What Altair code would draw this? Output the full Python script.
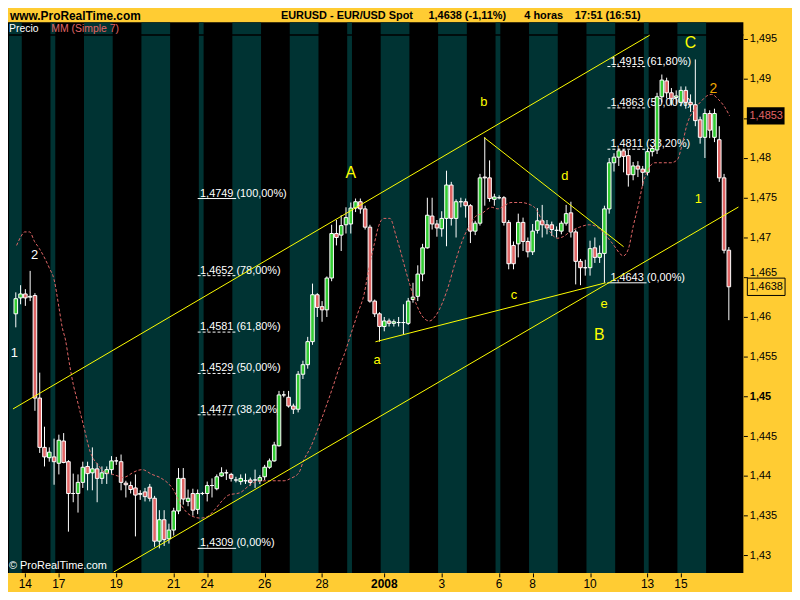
import altair as alt
import pandas as pd

# ------------------------------------------------------------------ data
# 4-hour EUR/USD bars, oldest first (bar i sits in time slot i)
bar_open = [
    1.4604, 1.4624, 1.4629, 1.4625, 1.4627, 1.4498, 1.4436, 1.4423, 1.4424, 1.4416,
    1.4444, 1.4418, 1.4378, 1.4378, 1.4392, 1.4412, 1.4404, 1.4409, 1.4397, 1.4403,
    1.4408, 1.4419, 1.4418, 1.4391, 1.4388, 1.4385, 1.4377, 1.4380, 1.4386, 1.4372,
    1.4318, 1.4345, 1.4321, 1.4332, 1.4356, 1.4397, 1.4368, 1.4378, 1.4358, 1.4378,
    1.4378, 1.4388, 1.4384, 1.4400, 1.4404, 1.4402, 1.4395, 1.4393, 1.4394, 1.4395,
    1.4395, 1.4394, 1.4399, 1.4411, 1.4419, 1.4438, 1.4502, 1.4499, 1.4488, 1.4484,
    1.4528, 1.4540, 1.4569, 1.4628, 1.4613, 1.4609, 1.4649, 1.4705, 1.4703, 1.4716,
    1.4717, 1.4737, 1.4745, 1.4736, 1.4713, 1.4620, 1.4604, 1.4588, 1.4595, 1.4592,
    1.4593, 1.4593, 1.4592, 1.4622, 1.4626, 1.4654, 1.4687, 1.4727, 1.4717, 1.4711,
    1.4724, 1.4766, 1.4724, 1.4745, 1.4745, 1.4740, 1.4708, 1.4718, 1.4776, 1.4775,
    1.4748, 1.4750, 1.4750, 1.4719, 1.4690, 1.4692, 1.4719, 1.4695, 1.4682, 1.4709,
    1.4721, 1.4716, 1.4716, 1.4709, 1.4708, 1.4718, 1.4731, 1.4707, 1.4670, 1.4662,
    1.4662, 1.4687, 1.4675, 1.4680, 1.4736, 1.4794, 1.4801, 1.4809, 1.4803, 1.4779,
    1.4790, 1.4786, 1.4782, 1.4808, 1.4810, 1.4877, 1.4897, 1.4882, 1.4876, 1.4870,
    1.4885, 1.4870, 1.4867, 1.4848, 1.4826, 1.4856, 1.4826, 1.4823, 1.4775, 1.4684,
]
bar_high = [
    1.4631, 1.4640, 1.4635, 1.4658, 1.4630, 1.4530, 1.4462, 1.4436, 1.4447, 1.4452,
    1.4454, 1.4420, 1.4403, 1.4402, 1.4418, 1.4418, 1.4436, 1.4416, 1.4412, 1.4412,
    1.4425, 1.4424, 1.4427, 1.4394, 1.4393, 1.4402, 1.4382, 1.4385, 1.4390, 1.4375,
    1.4357, 1.4357, 1.4340, 1.4360, 1.4410, 1.4410, 1.4383, 1.4384, 1.4383, 1.4380,
    1.4393, 1.4397, 1.4402, 1.4411, 1.4408, 1.4404, 1.4399, 1.4402, 1.4403, 1.4398,
    1.4408, 1.4401, 1.4414, 1.4422, 1.4443, 1.4507, 1.4507, 1.4507, 1.4491, 1.4532,
    1.4545, 1.4575, 1.4642, 1.4630, 1.4620, 1.4651, 1.4716, 1.4722, 1.4728, 1.4738,
    1.4744, 1.4749, 1.4749, 1.4740, 1.4716, 1.4622, 1.4606, 1.4600, 1.4598, 1.4597,
    1.4600, 1.4616, 1.4624, 1.4643, 1.4665, 1.4692, 1.4750, 1.4750, 1.4722, 1.4733,
    1.4784, 1.4770, 1.4748, 1.4750, 1.4749, 1.4742, 1.4721, 1.4780, 1.4826, 1.4797,
    1.4755, 1.4753, 1.4752, 1.4722, 1.4695, 1.4730, 1.4725, 1.4700, 1.4717, 1.4737,
    1.4741, 1.4722, 1.4720, 1.4714, 1.4721, 1.4741, 1.4745, 1.4710, 1.4673, 1.4672,
    1.4696, 1.4700, 1.4690, 1.4740, 1.4800, 1.4806, 1.4812, 1.4811, 1.4810, 1.4795,
    1.4796, 1.4790, 1.4812, 1.4815, 1.4882, 1.4905, 1.4901, 1.4888, 1.4885, 1.4890,
    1.4890, 1.4880, 1.4924, 1.4852, 1.4862, 1.4860, 1.4862, 1.4840, 1.4780, 1.4688,
]
bar_low = [
    1.4587, 1.4616, 1.4614, 1.4620, 1.4482, 1.4429, 1.4412, 1.4418, 1.4389, 1.4402,
    1.4416, 1.4330, 1.4367, 1.4354, 1.4385, 1.4382, 1.4382, 1.4367, 1.4390, 1.4390,
    1.4402, 1.4414, 1.4382, 1.4373, 1.4378, 1.4324, 1.4370, 1.4368, 1.4368, 1.4311,
    1.4309, 1.4312, 1.4315, 1.4325, 1.4352, 1.4364, 1.4362, 1.4350, 1.4352, 1.4376,
    1.4368, 1.4373, 1.4382, 1.4399, 1.4395, 1.4393, 1.4392, 1.4389, 1.4390, 1.4388,
    1.4385, 1.4390, 1.4395, 1.4409, 1.4418, 1.4437, 1.4499, 1.4486, 1.4478, 1.4480,
    1.4522, 1.4535, 1.4565, 1.4600, 1.4594, 1.4600, 1.4645, 1.4690, 1.4683, 1.4705,
    1.4705, 1.4732, 1.4730, 1.4710, 1.4618, 1.4600, 1.4569, 1.4582, 1.4588, 1.4588,
    1.4588, 1.4578, 1.4590, 1.4618, 1.4620, 1.4645, 1.4686, 1.4710, 1.4701, 1.4701,
    1.4689, 1.4715, 1.4700, 1.4738, 1.4725, 1.4693, 1.4703, 1.4715, 1.4740, 1.4745,
    1.4740, 1.4748, 1.4715, 1.4660, 1.4660, 1.4675, 1.4683, 1.4675, 1.4678, 1.4705,
    1.4700, 1.4704, 1.4702, 1.4700, 1.4704, 1.4715, 1.4700, 1.4641, 1.4640, 1.4652,
    1.4652, 1.4668, 1.4668, 1.4643, 1.4730, 1.4783, 1.4790, 1.4782, 1.4764, 1.4772,
    1.4776, 1.4765, 1.4778, 1.4802, 1.4805, 1.4870, 1.4875, 1.4866, 1.4868, 1.4865,
    1.4862, 1.4858, 1.4840, 1.4818, 1.4800, 1.4825, 1.4820, 1.4770, 1.4680, 1.4596,
]
bar_close = [
    1.4623, 1.4629, 1.4624, 1.4626, 1.4498, 1.4436, 1.4424, 1.4430, 1.4418, 1.4445,
    1.4417, 1.4378, 1.4378, 1.4392, 1.4411, 1.4403, 1.4409, 1.4397, 1.4404, 1.4408,
    1.4419, 1.4419, 1.4392, 1.4389, 1.4383, 1.4376, 1.4378, 1.4374, 1.4372, 1.4318,
    1.4345, 1.4320, 1.4332, 1.4356, 1.4397, 1.4371, 1.4372, 1.4357, 1.4378, 1.4378,
    1.4388, 1.4388, 1.4399, 1.4404, 1.4404, 1.4397, 1.4395, 1.4397, 1.4394, 1.4392,
    1.4395, 1.4398, 1.4411, 1.4419, 1.4439, 1.4502, 1.4502, 1.4488, 1.4484, 1.4528,
    1.4540, 1.4569, 1.4628, 1.4612, 1.4609, 1.4649, 1.4705, 1.4700, 1.4715, 1.4725,
    1.4737, 1.4745, 1.4736, 1.4713, 1.4620, 1.4604, 1.4588, 1.4595, 1.4592, 1.4594,
    1.4593, 1.4593, 1.4620, 1.4625, 1.4654, 1.4687, 1.4728, 1.4717, 1.4712, 1.4724,
    1.4766, 1.4724, 1.4745, 1.4745, 1.4740, 1.4708, 1.4718, 1.4775, 1.4775, 1.4749,
    1.4751, 1.4750, 1.4719, 1.4667, 1.4667, 1.4719, 1.4695, 1.4682, 1.4708, 1.4721,
    1.4716, 1.4712, 1.4710, 1.4709, 1.4718, 1.4730, 1.4707, 1.4670, 1.4662, 1.4662,
    1.4686, 1.4675, 1.4680, 1.4736, 1.4794, 1.4801, 1.4809, 1.4802, 1.4779, 1.4790,
    1.4786, 1.4782, 1.4808, 1.4812, 1.4877, 1.4898, 1.4882, 1.4875, 1.4878, 1.4885,
    1.4870, 1.4867, 1.4847, 1.4826, 1.4856, 1.4835, 1.4856, 1.4775, 1.4684, 1.4638,
]

# shaded trading days (slot units): 13, 16, 18, 20, 23, 25, 27, 30 Dec / 1, 3, 6, 8, 10, 13, 15 Jan
teal_day_start = [-0.66, 8, 15, 27, 39, 46, 58, 70, 77, 89, 101, 108, 120, 132, 139]
teal_day_end = [2, 9, 21, 33, 40, 52, 64, 71, 83, 95, 102, 114, 126, 133, 145]

# date axis
tick_slots = [2.75, 9.75, 21.75, 33.75, 40.75, 52.75, 64.75, 77.75, 89.75, 101.75,
              108.75, 120.75, 132.75, 139.75]
tick_labels = ["14", "17", "19", "21", "24", "26", "28", "2008", "3", "6", "8", "10", "13", "15"]

# price axis
price_ticks = [1.43, 1.435, 1.44, 1.445, 1.45, 1.455, 1.46, 1.465, 1.47, 1.475,
               1.48, 1.485, 1.49, 1.495]

# MM (Simple 7)
ma_slot = [0.92, 1.80, 2.61, 3.64, 4.66, 5.68, 7.73, 8.75, 9.77, 10.45, 11.14, 11.82, 12.84,
           13.52, 14.21, 14.89, 15.56, 16.26, 16.93, 17.96, 18.98, 21.03, 22.05, 23.07, 24.10,
           25.12, 27.16, 29.21, 30.91, 33.65, 35.35, 37.39, 39.44, 40.81, 42.51, 43.88, 45.23,
           47.62, 49.32, 51.04, 53.08, 55.13, 56.83, 58.20, 59.90, 60.92, 62.35, 63.99, 65.62,
           67.06, 68.43, 69.45, 70.80, 72.17, 73.54, 74.56, 75.59, 76.61, 77.63, 78.92, 80.35,
           83.07, 84.45, 85.82, 87.17, 88.54, 89.91, 91.26, 92.63, 94.00, 95.02, 96.72, 98.09,
           100.14, 101.49, 102.86, 104.23, 106.27, 108.32, 109.67, 110.69, 112.41, 113.76,
           115.13, 116.50, 118.55, 120.59, 122.29, 123.99, 125.36, 127.75, 128.78, 129.80,
           130.82, 131.85, 132.87, 134.22, 135.59, 137.64, 139.01, 140.03, 141.05, 142.40,
           143.77, 145.14, 146.17, 147.52, 148.89, 149.91]
ma_price = [1.4690, 1.4701, 1.4707, 1.4707, 1.4695, 1.4686, 1.4662, 1.4647, 1.4612, 1.4587,
            1.4571, 1.4546, 1.4513, 1.4497, 1.4480, 1.4464, 1.4447, 1.4431, 1.4422, 1.4414,
            1.4406, 1.4402, 1.4400, 1.4398, 1.4400, 1.4404, 1.4408, 1.4402, 1.4398, 1.4383,
            1.4363, 1.4350, 1.4347, 1.4349, 1.4359, 1.4369, 1.4376, 1.4379, 1.4387, 1.4393,
            1.4394, 1.4394, 1.4394, 1.4397, 1.4404, 1.4420, 1.4436, 1.4461, 1.4488, 1.4513,
            1.4538, 1.4554, 1.4579, 1.4604, 1.4629, 1.4662, 1.4690, 1.4715, 1.4724, 1.4724,
            1.4699, 1.4641, 1.4616, 1.4600, 1.4595, 1.4602, 1.4618, 1.4641, 1.4670, 1.4695,
            1.4709, 1.4726, 1.4730, 1.4738, 1.4736, 1.4740, 1.4744, 1.4744, 1.4741, 1.4734,
            1.4721, 1.4707, 1.4699, 1.4701, 1.4707, 1.4713, 1.4716, 1.4713, 1.4703, 1.4693,
            1.4677, 1.4686, 1.4715, 1.4740, 1.4769, 1.4785, 1.4794, 1.4794, 1.4794, 1.4798,
            1.4818, 1.4843, 1.4860, 1.4870, 1.4878, 1.4880, 1.4874, 1.4864, 1.4853]

# trend lines (start slot, start price, end slot, end price)
trend_s1 = [0.158, 21.23, 75.9, 98.6]
trend_p1 = [1.44843, 1.42793, 1.45688, 1.48258]
trend_s2 = [133.2, 151.75, 124.0, 127.76]
trend_p2 = [1.49544, 1.47383, 1.46430, 1.46884]

# Fibonacci retracements
fib_left_levels = [1.4749, 1.4652, 1.4581, 1.4529, 1.4477, 1.4309]
fib_left_pcts = ["100,00%", "78,00%", "61,80%", "50,00%", "38,20%", "0,00%"]
fib_right_levels = [1.4915, 1.4863, 1.4811, 1.4643]
fib_right_pcts = ["61,80%", "50,00%", "38,20%", "0,00%"]

# Elliott wave labels (text, slot, price)
wave_big = ["A", "B", "C"]
wave_big_slot = [70.74, 122.70, 141.73]
wave_big_price = [1.47816, 1.45775, 1.49449]
wave_small = ["a", "b", "c", "d", "e", "1"]
wave_small_slot = [76.26, 98.56, 104.84, 115.48, 123.66, 143.36]
wave_small_price = [1.45453, 1.48707, 1.46282, 1.47767, 1.46162, 1.47482]
wave_orange = ["2"]
wave_orange_slot = [146.49]
wave_orange_price = [1.48864]
wave_white = ["1", "2"]
wave_white_slot = [0.45, 4.66]
wave_white_price = [1.45543, 1.46777]

ma_last = 1.4853
last_price = 1.4638
site_text = "www.ProRealTime.com"
title_parts = ["EURUSD - EUR/USD Spot", "1,4638 (-1,11%)", "4 horas", "17:51 (16:51)"]

# ------------------------------------------------------------------ layout constants
PW, PH = 741, 555
X_MIN, X_MAX = 0.158, 151.75
Y_MIN, Y_MAX = 1.42781, 1.49709
FONT = "Liberation Sans"
ORANGE = "#FFCC33"
TEAL = "#003333"
GREEN = "#33CC33"
RED = "#E06666"
YELLOW = "#FFFF00"

XS = alt.Scale(domain=[X_MIN, X_MAX], nice=False, zero=False)
YS = alt.Scale(domain=[Y_MIN, Y_MAX], nice=False, zero=False)
X_AXIS = alt.Axis(orient="bottom", values=tick_slots, labels=False, tickSize=4,
                  tickColor="black", tickWidth=1, domain=False, grid=False, title=None)
Y_AXIS = alt.Axis(orient="right", values=price_ticks,
                  labelExpr="abs(datum.value - 1.485) < 0.0001 ? '' : "
                            "replace(format(datum.value, '.3~f'), '.', ',')",
                  labelFont=FONT, labelFontSize=11, labelColor="black",
                  labelFontWeight={"condition": {"test": "abs(datum.value - 1.45) < 0.0001",
                                                 "value": "bold"}, "value": "normal"},
                  labelBaseline={"condition": {"test": "abs(datum.value - 1.465) < 0.0001",
                                               "value": "bottom"}, "value": "middle"},
                  tickSize=4, tickColor="black", tickWidth=1, labelPadding=2,
                  labelOverlap=False, domain=False, grid=False, title=None)


def xq(f):
    return alt.X(f"{f}:Q", scale=XS, axis=X_AXIS)


def yq(f):
    return alt.Y(f"{f}:Q", scale=YS, axis=Y_AXIS)


# ------------------------------------------------------------------ tables
n = len(bar_open)
candles = pd.DataFrame({
    "slot": [i + 0.75 for i in range(n)],
    "open": bar_open, "high": bar_high, "low": bar_low, "close": bar_close,
})
candles["dir"] = ["up" if c > o else ("down" if c < o else "flat")
                  for o, c in zip(bar_open, bar_close)]

days = pd.DataFrame({"s": teal_day_start, "e": teal_day_end})
ticks = pd.DataFrame({"slot": tick_slots, "label": tick_labels})
ma = pd.DataFrame({"slot": ma_slot, "price": ma_price})
trends = pd.DataFrame({"s1": trend_s1, "p1": trend_p1, "s2": trend_s2, "p2": trend_p2})


def fib_table(levels, pcts, s0, s1, st):
    rows = []
    for lv, pc in zip(levels, pcts):
        rows.append({
            "level": lv,
            "label": f"{lv:.4f}".replace(".", ",") + " (" + pc + ")",
            "solid": pc in ("100,00%", "0,00%"),
            "s0": s0, "s1": s1, "st": st,
        })
    return rows


fib = pd.DataFrame(
    fib_table(fib_left_levels, fib_left_pcts, 38.76, 46.80, 39.25)
    + fib_table(fib_right_levels, fib_right_pcts, 124.38, 132.56, 125.0)
)

# ------------------------------------------------------------------ layers
bands = alt.Chart(days).mark_rect(color=TEAL, clip=True).encode(
    x=xq("s"), x2=alt.X2("e"), y=alt.value(0), y2=alt.value(PH))

strip_line = alt.Chart(pd.DataFrame({"k": [0]})).mark_rule(
    color="black", strokeWidth=1.5).encode(
    x=alt.value(0), x2=alt.value(PW), y=alt.value(13))

fib_solid = alt.Chart(fib).transform_filter("datum.solid").mark_rule(
    color="white", strokeWidth=1).encode(x=xq("s0"), x2=alt.X2("s1"), y=yq("level"))
fib_dash = alt.Chart(fib).transform_filter("!datum.solid").mark_rule(
    color="white", strokeWidth=1, strokeDash=[3, 2]).encode(
    x=xq("s0"), x2=alt.X2("s1"), y=yq("level"))
fib_text = alt.Chart(fib).mark_text(
    align="left", baseline="alphabetic", dy=-2, color="white", font=FONT, fontSize=11
).encode(x=xq("st"), y=yq("level"), text="label:N")

wicks = alt.Chart(candles).mark_rule(color="white", strokeWidth=1, clip=True).encode(
    x=xq("slot"), y=yq("low"), y2=alt.Y2("high"))
bodies = alt.Chart(candles).mark_bar(size=3.6, stroke="white", strokeWidth=1, clip=True).encode(
    x=xq("slot"), y=yq("open"), y2=alt.Y2("close"),
    fill=alt.Fill("dir:N", scale=alt.Scale(domain=["up", "down", "flat"],
                                           range=[GREEN, RED, "white"]), legend=None))

ma_line = alt.Chart(ma).mark_line(
    color=RED, strokeWidth=1, strokeDash=[3, 2], clip=True, interpolate="monotone"
).encode(x=xq("slot"), y=yq("price"), order="slot:Q")

trend_lines = alt.Chart(trends).mark_rule(color=YELLOW, strokeWidth=1, clip=True).encode(
    x=xq("s1"), y=yq("p1"), x2=alt.X2("s2"), y2=alt.Y2("p2"))


def wave_layer(texts, slots, prices, color, size):
    df = pd.DataFrame({"t": texts, "slot": slots, "price": prices})
    return alt.Chart(df).mark_text(color=color, fontSize=size, font=FONT,
                                   align="center", baseline="middle").encode(
        x=xq("slot"), y=yq("price"), text="t:N")


waves = [
    wave_layer(wave_big, wave_big_slot, wave_big_price, YELLOW, 16),
    wave_layer(wave_small, wave_small_slot, wave_small_price, YELLOW, 13),
    wave_layer(wave_orange, wave_orange_slot, wave_orange_price, "#F0A800", 14),
    wave_layer(wave_white, wave_white_slot, wave_white_price, "white", 13),
]

x_labels = alt.Chart(ticks).transform_filter("datum.label != '2008'").mark_text(
    baseline="top", align="center", font=FONT, fontSize=12, color="black").encode(
    x=xq("slot"), y=alt.value(PH + 6), text="label:N")
x_label_year = alt.Chart(ticks).transform_filter("datum.label == '2008'").mark_text(
    baseline="top", align="center", font=FONT, fontSize=12, fontWeight="bold",
    color="black").encode(x=xq("slot"), y=alt.value(PH + 6), text="label:N")

BOX = "M-1,-0.46L1,-0.46L1,0.46L-1,0.46Z"
box_ma = alt.Chart(pd.DataFrame({"p": [ma_last]})).mark_point(
    shape=BOX, size=1444, filled=True, fill="black", opacity=1, strokeWidth=0).encode(
    x=alt.value(763.5), y=yq("p"))
box_last = alt.Chart(pd.DataFrame({"p": [last_price]})).mark_point(
    shape=BOX, size=1444, filled=False, fill=ORANGE, fillOpacity=1, stroke="black",
    strokeWidth=1, opacity=1).encode(x=alt.value(764), y=yq("p"))
txt_ma = alt.Chart(pd.DataFrame({"p": [ma_last]})).transform_calculate(
    t="replace(format(datum.p, '.4f'), '.', ',')").mark_text(
    color=RED, font=FONT, fontSize=11, align="center", baseline="middle").encode(
    x=alt.value(764), y=yq("p"), text="t:N")
txt_last = alt.Chart(pd.DataFrame({"p": [last_price]})).transform_calculate(
    t="replace(format(datum.p, '.4f'), '.', ',')").mark_text(
    color="black", font=FONT, fontSize=11, align="center", baseline="middle").encode(
    x=alt.value(764), y=yq("p"), text="t:N")


def fixed_text(text, px, py, size, color="black", weight="normal"):
    return alt.Chart(pd.DataFrame({"t": [text]})).mark_text(
        align="left", baseline="middle", font=FONT, fontSize=size, fontWeight=weight,
        color=color).encode(x=alt.value(px), y=alt.value(py), text="t:N")


header = [
    fixed_text(site_text, 2, -6, 12, weight="bold"),
    fixed_text(title_parts[0], 275, -6, 11, weight="bold"),
    fixed_text(title_parts[1], 423.7, -6, 11, weight="bold"),
    fixed_text(title_parts[2], 520.3, -6, 11, weight="bold"),
    fixed_text(title_parts[3], 571, -6, 11, weight="bold"),
    fixed_text("Precio", 1, 6.5, 10.5, color="white"),
    fixed_text("MM (Simple 7)", 43.7, 6.5, 10.5, color=RED),
    fixed_text("\u00a9 ProRealTime.com", 1, PH - 7, 11, color="white"),
]

chart = alt.layer(
    bands, strip_line, fib_solid, fib_dash, fib_text, wicks, bodies, ma_line, trend_lines,
    *waves, x_labels, x_label_year, box_ma, box_last, txt_ma, txt_last, *header
).properties(
    width=PW, height=PH,
    padding={"left": 0, "top": 12, "right": 49, "bottom": 17},
    autosize=alt.AutoSizeParams(type="none"),
    background=ORANGE,
).configure_view(stroke=None, fill="black")

chart.save("out.html", embed_options={"renderer": "svg", "actions": False})
